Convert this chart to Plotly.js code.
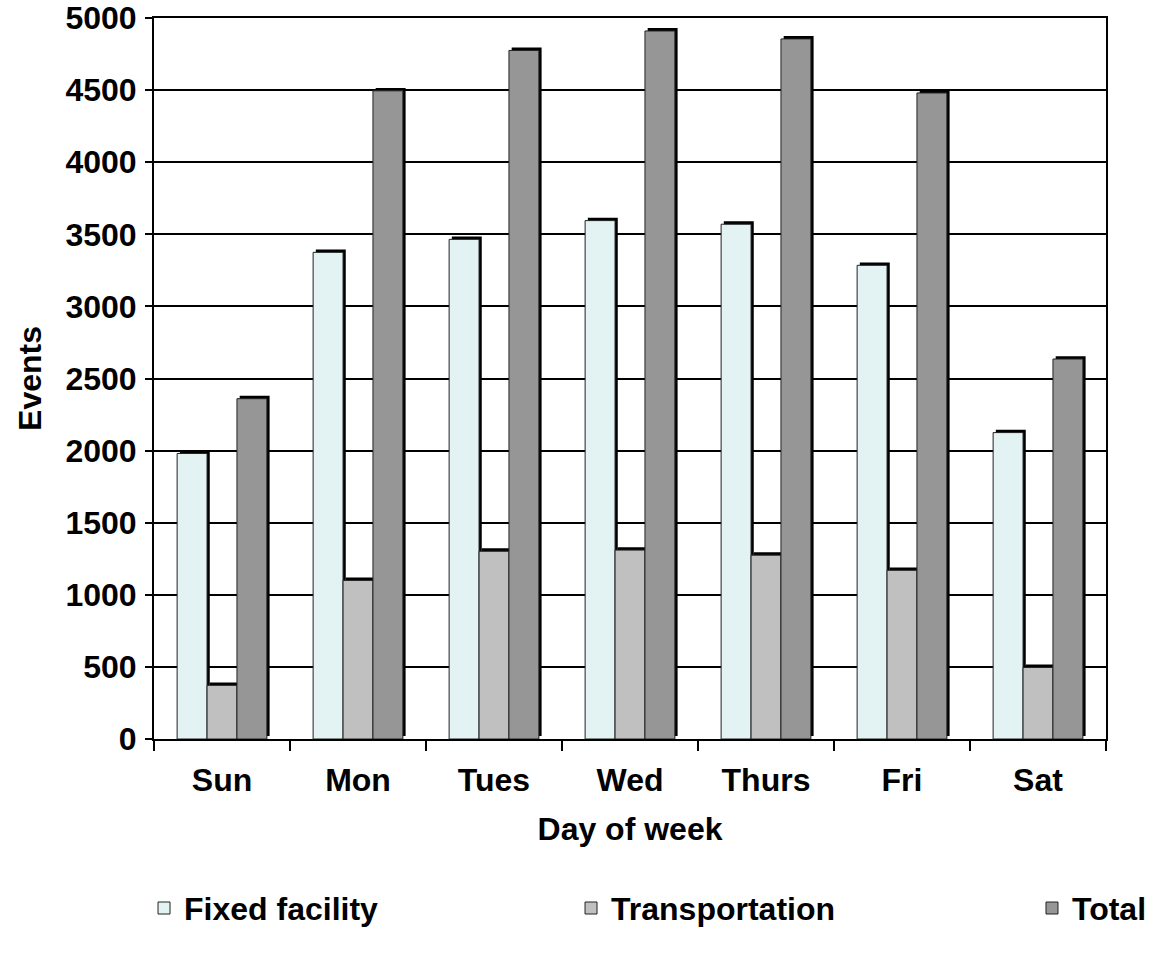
<!DOCTYPE html>
<html>
<head>
<meta charset="utf-8">
<script src="https://cdn.plot.ly/plotly-3.0.1.min.js"></script>
<style>html,body{margin:0;padding:0;background:#fff;}#chart{width:1155px;height:955px;}</style>
</head>
<body>
<div id="chart"></div>
<script>
var days = ["Sun", "Mon", "Tues", "Wed", "Thurs", "Fri", "Sat"];
var fixedFacility = [1980, 3375, 3465, 3595, 3570, 3285, 2125];
var transportation = [372, 1100, 1302, 1310, 1275, 1170, 496];
var total = [2360, 4495, 4775, 4910, 4855, 4480, 2635];
var seriesNames = ["Fixed facility", "Transportation", "Total"];
var seriesColors = ["#e3f2f3", "#c0c0c0", "#969696"];
var seriesLegends = ["legend", "legend", "legend2"];
var yTicks = [0, 500, 1000, 1500, 2000, 2500, 3000, 3500, 4000, 4500, 5000];

var FONT = {family: "Liberation Sans, Arial, sans-serif", size: 32, color: "#000", weight: "bold"};
var barW = 0.22;
var offsets = [-0.33, -0.11, 0.11];
var shadowDx = 0.02, shadowDy = 20;
var seriesData = [fixedFacility, transportation, total];

var traces = [];
seriesData.forEach(function (vals, i) {
  traces.push({
    type: "bar", x: days, y: vals, base: shadowDy,
    width: barW, offset: offsets[i] + shadowDx,
    marker: {color: "#000", line: {width: 0}},
    showlegend: false, hoverinfo: "skip"
  });
});
seriesData.forEach(function (vals, i) {
  traces.push({
    type: "bar", name: seriesNames[i], x: days, y: vals,
    width: barW, offset: offsets[i], legend: seriesLegends[i],
    marker: {color: seriesColors[i], line: {color: "#222", width: 1}}
  });
});

var legendBase = {
  orientation: "h", xanchor: "left", xref: "container",
  yref: "container", y: 0.049, yanchor: "middle",
  font: FONT, itemwidth: 30, traceorder: "normal", bgcolor: "rgba(0,0,0,0)"
};

var layout = {
  width: 1155, height: 955,
  margin: {l: 154, r: 49, t: 18, b: 216},
  paper_bgcolor: "#fff", plot_bgcolor: "#fff",
  barmode: "overlay",
  font: FONT,
  showlegend: true,
  xaxis: {
    type: "category", range: [-0.5, 6.5],
    showline: true, linecolor: "#000", linewidth: 2, mirror: true,
    ticks: "outside", tickson: "boundaries", ticklen: 10, tickwidth: 2, tickcolor: "#000",
    showgrid: false, tickfont: FONT, ticklabelstandoff: 12,
    title: {text: "Day of week", font: FONT, standoff: 20},
    automargin: true
  },
  yaxis: {
    range: [0, 5000], tickvals: yTicks, ticktext: yTicks.map(String),
    showline: true, linecolor: "#000", linewidth: 2, mirror: true,
    ticks: "outside", ticklen: 7, tickwidth: 2, tickcolor: "#000",
    showgrid: true, gridcolor: "#000", gridwidth: 2, zeroline: false,
    tickfont: FONT, ticklabelstandoff: 2,
    title: {text: "Events", font: FONT, standoff: 14},
    automargin: false
  },
  yaxis2: {
    overlaying: "y", anchor: "free", position: 0.0045, side: "left",
    range: [0, 5000], showline: true, linecolor: "#000", linewidth: 2,
    showgrid: false, zeroline: false, showticklabels: false, ticks: "",
    automargin: false
  },
  legend: Object.assign({}, legendBase, {x: 0.1247, entrywidth: 382, entrywidthmode: "pixels"}),
  legend2: Object.assign({}, legendBase, {x: 0.8935})
};

Plotly.newPlot("chart", traces, layout, {displayModeBar: false, staticPlot: true});
</script>
</body>
</html>
